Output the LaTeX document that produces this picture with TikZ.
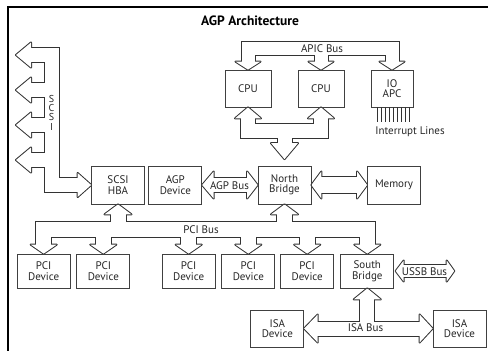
\documentclass[tikz,border=0pt]{standalone}
\usepackage{fontspec}
\setmainfont{PT Sans}
\usepackage{tikz}
\usetikzlibrary{calc,backgrounds}
\tikzstyle{unit}=[draw=black!75, line width=0.8pt, align=center, inner sep=0pt, minimum width=53pt, minimum height=37pt, text=black!85]
\tikzstyle{buslabel}=[inner sep=0pt, text=black!85]
% one piece of a hollow bus: pass 0 draws the rim, pass 1 clears the inside
\newcommand{\busShaft}[2]{
	\ifnum\buspass=0\relax
		\draw[black!80, line width={2*#1+2}, line cap=butt, line join=miter] #2;
	\else
		\draw[white, line width={2*#1}, line cap=butt, line join=miter] #2;
	\fi
}
\newcommand{\busHead}[4]{
	\begin{scope}[shift={#1}, rotate=#2]
	\ifnum\buspass=0\relax
		\filldraw[black!80, line width=2pt, line join=round] (0,0) -- (-#4,#3) -- (-#4,-#3) -- cycle;
	\else
		\fill[white] (0,0) -- (-#4,#3) -- (-#4,-#3) -- cycle;
	\fi
	\end{scope}
}

\begin{document}
\begin{tikzpicture}[x=1pt, y=-1pt, font=\fontsize{11}{10.5}\selectfont]
	\useasboundingbox (0,0) rectangle (488,351);
	\draw[line width=1.6pt] (488,7) -- (8,7) -- (8,351);
	\node[font=\bfseries\fontsize{13.5}{15}\selectfont] (title) at (250,21) {AGP Architecture};
	% processors
	\node[unit, minimum width=46pt] (cpuA) at (248,88.5) {CPU};
	\node[unit, minimum width=46pt] (cpuB) at (321,88.5) {CPU};
	\node[unit, minimum width=42pt] (ioapc) at (392,88.5) {IO\\APC};
	\foreach \i in {0,...,8}
		\draw[black!80, line width=0.8pt] ($(ioapc.south west)+(7+4*\i,0)$) -- ++(0,15);
	\node[text=black!85] (irq) at (410,132) {Interrupt Lines};
	% bridges
	\node[unit, minimum height=38pt] (hba) at (118,185) {SCSI\\HBA};
	\node[unit, minimum height=38pt] (agp) at (175.3,185) {AGP\\Device};
	\node[unit, minimum height=38pt] (nb) at (284.5,185) {North\\Bridge};
	\node[unit, minimum height=38pt] (mem) at (394,185) {Memory};
	% devices
	\node[unit, minimum height=34pt] (pciA) at (43.7,271) {PCI\\Device};
	\node[unit, minimum height=34pt] (pciB) at (103.3,271) {PCI\\Device};
	\node[unit, minimum height=34pt] (pciC) at (188.7,271) {PCI\\Device};
	\node[unit, minimum height=34pt] (pciD) at (248.3,271) {PCI\\Device};
	\node[unit, minimum height=34pt] (pciE) at (307.2,271) {PCI\\Device};
	\node[unit, minimum height=34pt] (sb) at (367.3,271) {South\\Bridge};
	\node[unit] (isaA) at (277.3,328.5) {ISA\\Device};
	\node[unit] (isaB) at (459.5,328.5) {ISA\\Device};
	% bus levels
	\coordinate (apic) at (0,48.5);
	\coordinate (fsb) at (0,131);
	\coordinate (pci) at (0,229);
	\begin{scope}[on background layer]
	\foreach \buspass in {0,1}{
		% APIC bus
		\busShaft{6.5}{($(cpuA.north)+(0,-7)$) -- (cpuA |- apic) -- (ioapc |- apic) -- ($(ioapc.north)+(0,-7)$)}
		\busShaft{6.5}{(cpuB |- apic) -- ($(cpuB.north)+(0,-7)$)}
		\busHead{(cpuA.north)}{270}{12.5}{8}
		\busHead{(cpuB.north)}{270}{12.5}{8}
		\busHead{(ioapc.north)}{270}{12.5}{8}
		% processor bus
		\busShaft{7}{($(cpuA.south)+(0,10)$) -- (cpuA |- fsb) -- (cpuB |- fsb) -- ($(cpuB.south)+(0,10)$)}
		\busShaft{7}{(nb |- fsb) -- ($(nb.north)+(0,-21)$)}
		\busHead{(cpuA.south)}{90}{13}{11}
		\busHead{(cpuB.south)}{90}{13}{11}
		\busHead{($(nb.north)+(0,-6.5)$)}{270}{13.5}{16}
		% SCSI
		\busShaft{7}{(31,55) -- (52,55) -- (52,185) -- ($(hba.west)+(-12,0)$)}
		\foreach \y in {55,90,125,160}{
			\busShaft{7}{(31,\y) -- (52,\y)}
			\busHead{(16,\y)}{180}{12.5}{15}
		}
		\busHead{(hba.west)}{0}{12}{13.5}
		% PCI bus
		\busShaft{7.5}{($(pciA.north)+(0,-8)$) -- (pciA |- pci) -- (sb |- pci) -- ($(sb.north)+(0,-8)$)}
		\foreach \n in {pciA,pciB,pciC,pciD,pciE,sb}{
			\busShaft{7.5}{(\n |- pci) -- ($(\n.north)+(0,-8)$)}
			\busHead{(\n.north)}{270}{13}{9}
		}
		\busShaft{7.5}{(hba |- pci) -- ($(hba.south)+(0,9)$)}
		\busShaft{7.5}{(nb |- pci) -- ($(nb.south)+(0,9)$)}
		\busHead{(hba.south)}{90}{13.5}{10}
		\busHead{(nb.south)}{90}{13.5}{10}
		% AGP and memory
		\busShaft{7}{($(agp.east)+(10,0)$) -- ($(nb.west)+(-9,0)$)}
		\busHead{(agp.east)}{180}{13.5}{11.5}
		\busHead{(nb.west)}{0}{13.5}{10.5}
		\busShaft{8}{($(nb.east)+(9,0)$) -- ($(mem.west)+(-9,0)$)}
		\busHead{(nb.east)}{180}{13.5}{10}
		\busHead{(mem.west)}{0}{13.5}{10}
		% USSB
		\busShaft{6}{($(sb.east)+(8.5,0)$) -- ($(sb.east)+(53.5,0)$)}
		\busHead{($(sb.east)+(1.5,0)$)}{180}{10.5}{8}
		\busHead{($(sb.east)+(60,0)$)}{0}{10.5}{7.5}
		% ISA bus
		\busShaft{7}{($(isaA.east)+(12.5,0)$) -- ($(isaB.west)+(-12,0)$)}
		\busShaft{7}{(sb |- isaA) -- ($(sb.south)+(0,10)$)}
		\busHead{(isaA.east)}{180}{14}{13.5}
		\busHead{(isaB.west)}{0}{14}{13}
		\busHead{(sb.south)}{90}{13.5}{11}
	}
	\end{scope}
	% bus names
	\node[buslabel] (apicl) at (322,48.5) {APIC Bus};
	\node[buslabel, align=center, font=\fontsize{10}{9.3}\selectfont] (scsil) at (51.5,112.5) {S\\C\\S\\I};
	\node[buslabel] (pcil) at (201,230) {PCI Bus};
	\node[buslabel] (agpl) at (229.5,186) {AGP Bus};
	\node[buslabel] (ussbl) at (424.5,271.5) {USSB Bus};
	\node[buslabel] (isal) at (365.5,328) {ISA Bus};
\end{tikzpicture}
\end{document}
